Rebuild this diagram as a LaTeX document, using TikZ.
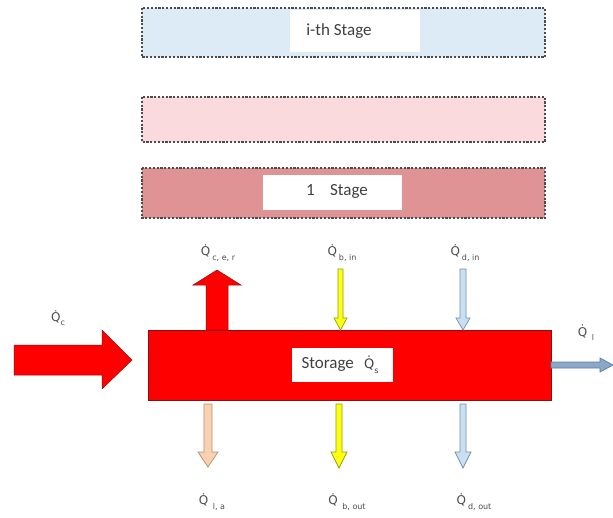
\documentclass[tikz,border=0pt]{standalone}
\usepackage{fontspec}
\setmainfont{Carlito}
\newfontfamily\flowfont{DejaVu Sans}
\definecolor{stageblue}{HTML}{DDEBF7}
\definecolor{stagepink}{HTML}{FADADC}
\definecolor{stagerose}{HTML}{DF9395}
\definecolor{tankred}{HTML}{FF0000}
\definecolor{tankedge}{HTML}{8A1010}
\definecolor{yelfill}{HTML}{FFFF10}
\definecolor{yeledge}{HTML}{8FA010}
\definecolor{blufill}{HTML}{C8E0F2}
\definecolor{bluedge}{HTML}{7090B0}
\definecolor{peachfill}{HTML}{F9D0B0}
\definecolor{peachedge}{HTML}{B09478}
\definecolor{steelfill}{HTML}{8CA8C8}
\definecolor{steeledge}{HTML}{5A7CA4}
% Q with a dot above (combining U+0307), followed by a lowered subscript
\newcommand\qdotsym{{\flowfont Q\char"0307\relax}}
\newcommand\qflow[1]{\qdotsym\,\raisebox{-0.4em}{\flowfont\fontsize{8}{9}\selectfont #1}}
\begin{document}
\begin{tikzpicture}[x=1pt,y=-1pt,
  stagebox/.style={draw=black!70, line width=1.1pt, dash pattern=on 2.2pt off 1.6pt},
  stagetext/.style={font=\fontsize{17}{19}\selectfont, text=black!75},
  qlabel/.style={font=\fontsize{12}{14}\selectfont, text=black!70, inner sep=1pt},
  redarrow/.style={fill=tankred, draw=tankedge, line width=0.5pt},
  yelarrow/.style={fill=yelfill, draw=yeledge, line width=0.7pt},
  bluarrow/.style={fill=blufill, draw=bluedge, line width=0.7pt},
  peacharrow/.style={fill=peachfill, draw=peachedge, line width=0.7pt},
  steelarrow/.style={fill=steelfill, draw=steeledge, line width=0.7pt}]
\useasboundingbox (0,0) rectangle (613,517);
\fill[white] (0,0) rectangle (613,517);

% stacked stages
\filldraw[stagebox, fill=stageblue] (142,8) rectangle (545,57);
\fill[white] (290,10) rectangle (420,52);
\node[stagetext] (ith) at (339,31) {i-th Stage};

\filldraw[stagebox, fill=stagepink] (142,97) rectangle (545,142);

\filldraw[stagebox, fill=stagerose] (142,168) rectangle (545,218);
\fill[white] (263,175) rectangle (402,210);
\node[stagetext] (first) at (337,191) {1\hspace{0.9em}Stage};

% storage tank
\node[draw=tankedge, fill=tankred, line width=0.6pt, minimum width=403pt,
  minimum height=70pt, inner sep=0pt] (storage) at (349.5,365) {};
\fill[white] (292,348) rectangle (393,382);
\node[stagetext, inner sep=0pt] (stlabel) at (340,365) {Storage\hspace{0.6em}{\fontsize{13}{15}\selectfont\qdotsym}\raisebox{-0.3em}{\flowfont\fontsize{8}{9}\selectfont s}};

% input heat flow
\filldraw[redarrow] (14,345) -- (102,345) -- (102,330) -- (132,360)
  -- (102,389) -- (102,375) -- (14,375) -- cycle;
\node[qlabel] (qc) at (58,318) {\qdotsym\raisebox{-0.3em}{\flowfont\fontsize{8}{9}\selectfont c}};

% upward red arrow
\filldraw[redarrow] (206,330) -- (206,285) -- (193,285) -- (217,270) -- (241,285)
  -- (228,285) -- (228,330) -- cycle;
\node[qlabel] (qcer) at (218,253) {\qflow{c, e, r}};

% thin inflow arrows
\filldraw[yelarrow] (338,269) -- (343,269) -- (343,318) -- (347,318) -- (340.5,330)
  -- (334,318) -- (338,318) -- cycle;
\node[qlabel] (qbin) at (342,253) {\qflow{b, in}};
\filldraw[bluarrow] (460,269) -- (466,269) -- (466,318) -- (470,318) -- (463,330)
  -- (456,318) -- (460,318) -- cycle;
\node[qlabel] (qdin) at (465,253) {\qflow{d, in}};

% loss to the right
\filldraw[steelarrow] (551,362) -- (600,362) -- (600,358) -- (613,365) -- (600,372)
  -- (600,368) -- (551,368) -- cycle;
\node[qlabel] (ql) at (586,333) {\qflow{\ l}};

% outflow arrows
\filldraw[peacharrow] (204,404) -- (212,404) -- (212,452) -- (218,452) -- (208,467)
  -- (198,452) -- (204,452) -- cycle;
\node[qlabel] (qla) at (212,502) {\qflow{\ l, a}};
\filldraw[yelarrow] (336,404) -- (342,404) -- (342,452) -- (347,452) -- (339,468)
  -- (331,452) -- (336,452) -- cycle;
\node[qlabel] (qbout) at (347,502) {\qflow{\ b, out}};
\filldraw[bluarrow] (460,404) -- (466,404) -- (466,452) -- (471,452) -- (463,468)
  -- (455,452) -- (460,452) -- cycle;
\node[qlabel] (qdout) at (474,502) {\qflow{d, out}};
\end{tikzpicture}
\end{document}
